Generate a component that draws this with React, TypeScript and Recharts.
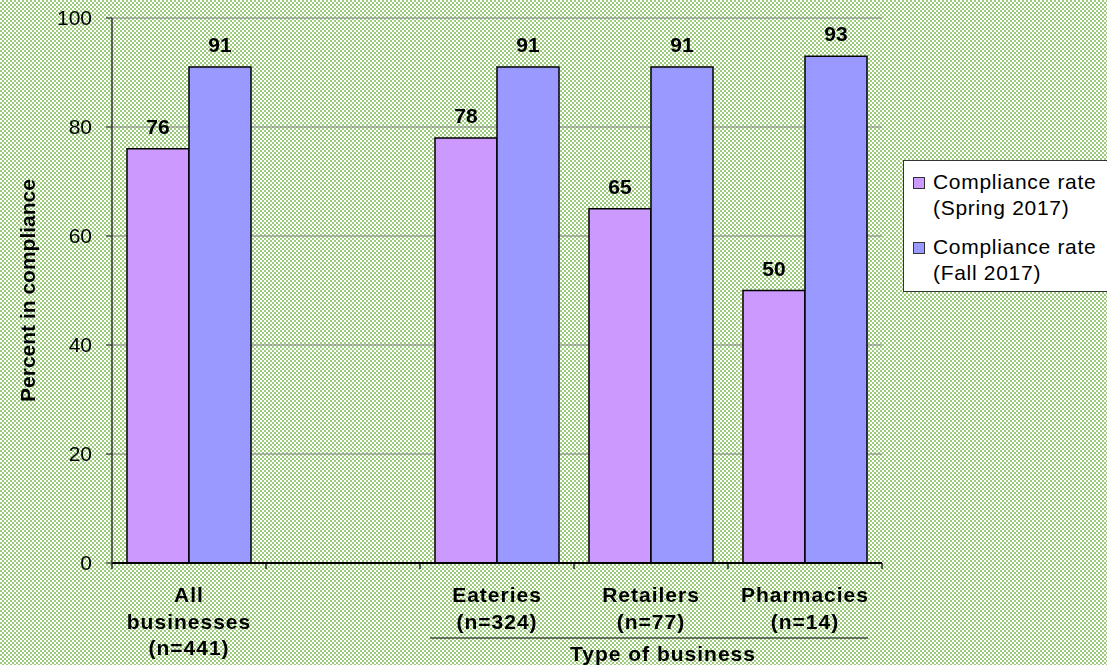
import React from 'react';
import {
  BarChart,
  Bar,
  XAxis,
  YAxis,
  CartesianGrid,
  LabelList,
  Legend,
} from 'recharts';

// ---- data ----
const categories = ['All businesses', '', 'Eateries', 'Retailers', 'Pharmacies'];
const categoryLines: string[][] = [
  ['All', 'businesses', '(n=441)'],
  [],
  ['Eateries', '(n=324)'],
  ['Retailers', '(n=77)'],
  ['Pharmacies', '(n=14)'],
];
const springValues: (number | null)[] = [76, null, 78, 65, 50];
const fallValues: (number | null)[] = [91, null, 91, 91, 93];
const yTicks = [0, 20, 40, 60, 80, 100];
const groupTitle = 'Type of business';
const groupStart = 2;
const groupEnd = 4;
const seriesKeys = ['spring', 'fall'];
const seriesNames = ['Compliance rate\n(Spring 2017)', 'Compliance rate\n(Fall 2017)'];
const seriesColors = ['#CC99FF', '#9999FF'];

const data = categories.map((name, i) => ({
  name,
  spring: springValues[i],
  fall: fallValues[i],
}));

const FONT = "Arial, 'Liberation Sans', sans-serif";

const XTick = (props: any) => {
  const { x, y, payload, index } = props;
  const half = payload && typeof payload.offset === 'number' && payload.offset > 0 ? payload.offset : 77;
  const lines = categoryLines[index] || [];
  const baselines = [39, 65.5, 92];
  return (
    <g>
      <line x1={x - half} x2={x - half} y1={y} y2={y + 6} stroke="#000" strokeWidth={1.2} />
      {index === categories.length - 1 && (
        <line x1={x + half} x2={x + half} y1={y} y2={y + 6} stroke="#000" strokeWidth={1.2} />
      )}
      {lines.map((t, k) => (
        <text
          key={k}
          x={x}
          y={y + baselines[k]}
          textAnchor="middle"
          fontFamily={FONT}
          fontSize={21}
          fontWeight="bold"
          letterSpacing={1}
          fill="#000"
        >
          {t}
        </text>
      ))}
      {index >= groupStart && index <= groupEnd && (
        <line
          x1={index === groupStart ? x - half + 10 : x - half}
          x2={index === groupEnd ? x + half - 14 : x + half}
          y1={y + 75}
          y2={y + 75}
          stroke="#000"
          strokeWidth={1.2}
        />
      )}
      {index === Math.round((groupStart + groupEnd) / 2) && (
        <text
          x={x + 12}
          y={y + 98}
          textAnchor="middle"
          fontFamily={FONT}
          fontSize={21}
          fontWeight="bold"
          letterSpacing={1}
          fill="#000"
        >
          {groupTitle}
        </text>
      )}
    </g>
  );
};

const YLabel = (props: any) => {
  const vb = props.viewBox || { x: 0, y: 18, width: 112, height: 545 };
  const cx = vb.x + 35;
  const cy = vb.y + vb.height / 2;
  return (
    <text
      x={cx}
      y={cy}
      transform={`rotate(-90 ${cx} ${cy})`}
      textAnchor="middle"
      fontFamily={FONT}
      fontSize={21}
      fontWeight="bold"
      fill="#000"
    >
      Percent in compliance
    </text>
  );
};

const LegendContent = (props: any) => {
  const payload = [...(props.payload || [])].sort(
    (a: any, b: any) => seriesKeys.indexOf(a.dataKey) - seriesKeys.indexOf(b.dataKey)
  );
  return (
    <div
      style={{
        boxSizing: 'border-box',
        width: 230,
        background: '#fff',
        border: '1px solid #333',
        padding: '8px 0 5px 9px',
        fontFamily: FONT,
        fontSize: 21,
        lineHeight: '26px',
        letterSpacing: 0.7,
        color: '#000',
      }}
    >
      {payload.map((p: any, i: number) => (
        <div
          key={i}
          style={{ display: 'flex', alignItems: 'flex-start', marginTop: i === 0 ? 0 : 13 }}
        >
          <div
            style={{
              width: 12,
              height: 12,
              marginTop: 8,
              marginRight: 8,
              background: p.color,
              border: '1px solid #333',
              boxSizing: 'border-box',
              flexShrink: 0,
            }}
          />
          <div style={{ whiteSpace: 'pre' }}>{p.value}</div>
        </div>
      ))}
    </div>
  );
};

export default function App() {
  return (
    <div
      style={{
        position: 'fixed',
        left: 0,
        top: 0,
        width: 1107,
        height: 665,
        overflow: 'hidden',
        background: 'repeating-conic-gradient(#9ccc7c 0% 25%, #ffffff 0% 50%) 0 0 / 4px 4px',
      }}
    >
      <BarChart
        width={1107}
        height={665}
        data={data}
        margin={{ top: 18, right: 225, bottom: 0, left: 0 }}
        barGap={0}
        barCategoryGap={15}
        style={{ fontFamily: FONT }}
      >
        <CartesianGrid vertical={false} stroke="#808080" strokeWidth={1} />
        <XAxis
          dataKey="name"
          height={102}
          interval={0}
          tickSize={0}
          tickMargin={0}
          tickLine={false}
          axisLine={{ stroke: '#000', strokeWidth: 2 }}
          tick={<XTick />}
        />
        <YAxis
          width={112}
          domain={[0, 100]}
          ticks={yTicks}
          interval={0}
          tickSize={6}
          tickMargin={14}
          tickLine={{ stroke: '#333', strokeWidth: 1.2 }}
          axisLine={{ stroke: '#333', strokeWidth: 1.5 }}
          tick={{ fill: '#000', fontSize: 21, fontFamily: FONT }}
          label={<YLabel />}
        />
        <YAxis
          yAxisId="right"
          orientation="right"
          width={0}
          domain={[0, 100]}
          tick={false}
          tickLine={false}
          axisLine={{ stroke: '#808080', strokeWidth: 1.5 }}
        />
        <Legend
          layout="vertical"
          align="center"
          verticalAlign="middle"
          wrapperStyle={{ left: 903, top: 160, width: 230, height: 'auto' }}
          content={<LegendContent />}
        />
        <Bar
          dataKey="spring"
          name={seriesNames[0]}
          fill={seriesColors[0]}
          stroke="#000"
          strokeWidth={1.5}
          isAnimationActive={false}
        >
          <LabelList
            dataKey="spring"
            position="top"
            offset={15}
            fill="#000"
            fontSize={21}
            fontWeight="bold"
            fontFamily={FONT}
          />
        </Bar>
        <Bar
          dataKey="fall"
          name={seriesNames[1]}
          fill={seriesColors[1]}
          stroke="#000"
          strokeWidth={1.5}
          isAnimationActive={false}
        >
          <LabelList
            dataKey="fall"
            position="top"
            offset={15}
            fill="#000"
            fontSize={21}
            fontWeight="bold"
            fontFamily={FONT}
          />
        </Bar>
      </BarChart>
    </div>
  );
}
